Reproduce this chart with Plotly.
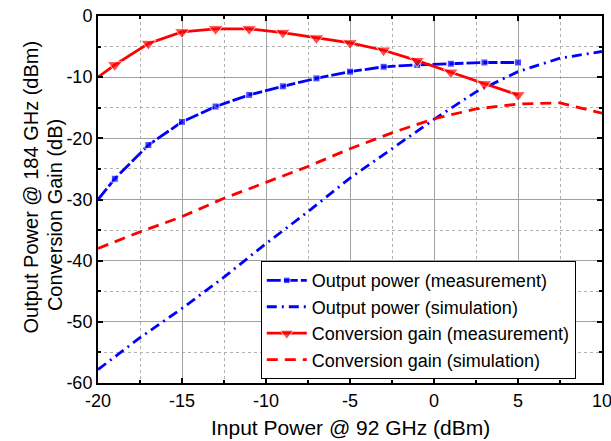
import plotly.graph_objects as go

# Measured data (input power, dBm)
meas_pin = [-20, -19, -17, -15, -13, -11, -9, -7, -5, -3, -1, 1, 3, 5]
meas_pout = [-30.0, -26.6, -21.1, -17.3, -14.8, -12.9, -11.5, -10.2, -9.1, -8.3, -8.0, -7.8, -7.6, -7.6]
meas_gain = [-10.0, -8.0, -4.5, -2.6, -2.1, -2.1, -2.7, -3.6, -4.4, -5.6, -7.3, -9.2, -11.1, -12.9]

# Simulated data
sim_pin = [-20, -17.5, -15, -12.5, -10, -7.5, -5, -2.5, 0, 2.5, 5, 7.5, 10]
sim_pout = [-57.8, -52.6, -47.8, -42.7, -37.2, -32.0, -26.5, -21.7, -16.9, -12.4, -9.1, -6.9, -5.8]
sim_gain = [-38.0, -35.3, -32.8, -29.8, -27.2, -24.6, -21.7, -19.1, -16.8, -15.2, -14.4, -14.2, -15.9]

x_ticks = [-20, -15, -10, -5, 0, 5, 10]
y_ticks = [0, -10, -20, -30, -40, -50, -60]

x_title = "Input Power @ 92 GHz (dBm)"
y_title_1 = "Output Power @ 184 GHz (dBm)"
y_title_2 = "Conversion Gain (dB)"

msize = [0] + [7] * (len(meas_pin) - 1)
tsize = [0] + [13] * (len(meas_pin) - 1)

FONT = "Liberation Sans, Arial"

fig = go.Figure()
fig.add_trace(go.Scatter(
    x=meas_pin, y=meas_pout, mode="lines+markers",
    name="Output power (measurement)",
    line=dict(color="#0000ff", width=2.8, dash="14px,3px"),
    marker=dict(symbol="square", size=msize, color="#0000ff"),
))
fig.add_trace(go.Scatter(
    x=sim_pin, y=sim_pout, mode="lines",
    name="Output power (simulation)",
    line=dict(color="#0000ff", width=2.8, dash="10px,5px,2px,5px"),
))
fig.add_trace(go.Scatter(
    x=meas_pin, y=meas_gain, mode="lines+markers",
    name="Conversion gain (measurement)",
    line=dict(color="#ff0000", width=2.8),
    marker=dict(symbol="triangle-down", size=tsize, color="#ff0000"),
))
fig.add_trace(go.Scatter(
    x=sim_pin, y=sim_gain, mode="lines",
    name="Conversion gain (simulation)",
    line=dict(color="#ff0000", width=2.8, dash="11px,7px"),
))

axis_common = dict(
    showline=True, linecolor="black", linewidth=2, mirror="allticks",
    ticks="inside", ticklen=5, tickwidth=1.5, tickcolor="black",
    showgrid=True, gridcolor="#a0a0a0", gridwidth=1.3,
    zeroline=False, automargin=False, ticklabeloverflow="allow",
    tickfont=dict(family=FONT, size=18, color="black"),
)

fig.update_xaxes(
    range=[-20, 10], tickvals=x_ticks, ticktext=[str(v) for v in x_ticks],
    minor=dict(dtick=2.5, tick0=0, ticks="inside", ticklen=3, tickcolor="black",
               showgrid=True, gridcolor="#b0b0b0", griddash="dot", gridwidth=1),
    **axis_common,
)
fig.update_yaxes(
    range=[-60, 0], tickvals=y_ticks, ticktext=[str(v) for v in y_ticks],
    minor=dict(dtick=5, tick0=0, ticks="inside", ticklen=3, tickcolor="black",
               showgrid=True, gridcolor="#b0b0b0", griddash="dot", gridwidth=1),
    **axis_common,
)

title_font = dict(family=FONT, size=21, color="black")
fig.add_annotation(text=x_title, xref="paper", yref="paper", x=0.5, y=-0.12,
                   xanchor="center", yanchor="middle", showarrow=False, font=title_font)
fig.add_annotation(text=y_title_1, xref="paper", yref="paper", x=-0.132, y=0.534,
                   xanchor="center", yanchor="middle", textangle=-90, showarrow=False,
                   font=dict(family=FONT, size=20, color="black"))
fig.add_annotation(text=y_title_2, xref="paper", yref="paper", x=-0.085, y=0.458,
                   xanchor="center", yanchor="middle", textangle=-90, showarrow=False,
                   font=dict(family=FONT, size=20, color="black"))

fig.update_layout(
    width=611, height=441,
    margin=dict(l=98, r=9, t=16, b=58),
    plot_bgcolor="white", paper_bgcolor="white",
    font=dict(family=FONT, color="black"),
    legend=dict(
        x=0.323, y=0.332, xanchor="left", yanchor="top",
        bgcolor="white", bordercolor="black", borderwidth=1,
        font=dict(family=FONT, size=18, color="black"),
        tracegroupgap=0, itemwidth=40,
    ),
    showlegend=True,
)

# remove the page's default 8px body margin so the figure fills the window; hide the modebar
fig.write_html("out.html", config={"displayModeBar": False},
               post_script="document.body.style.margin='0';")
